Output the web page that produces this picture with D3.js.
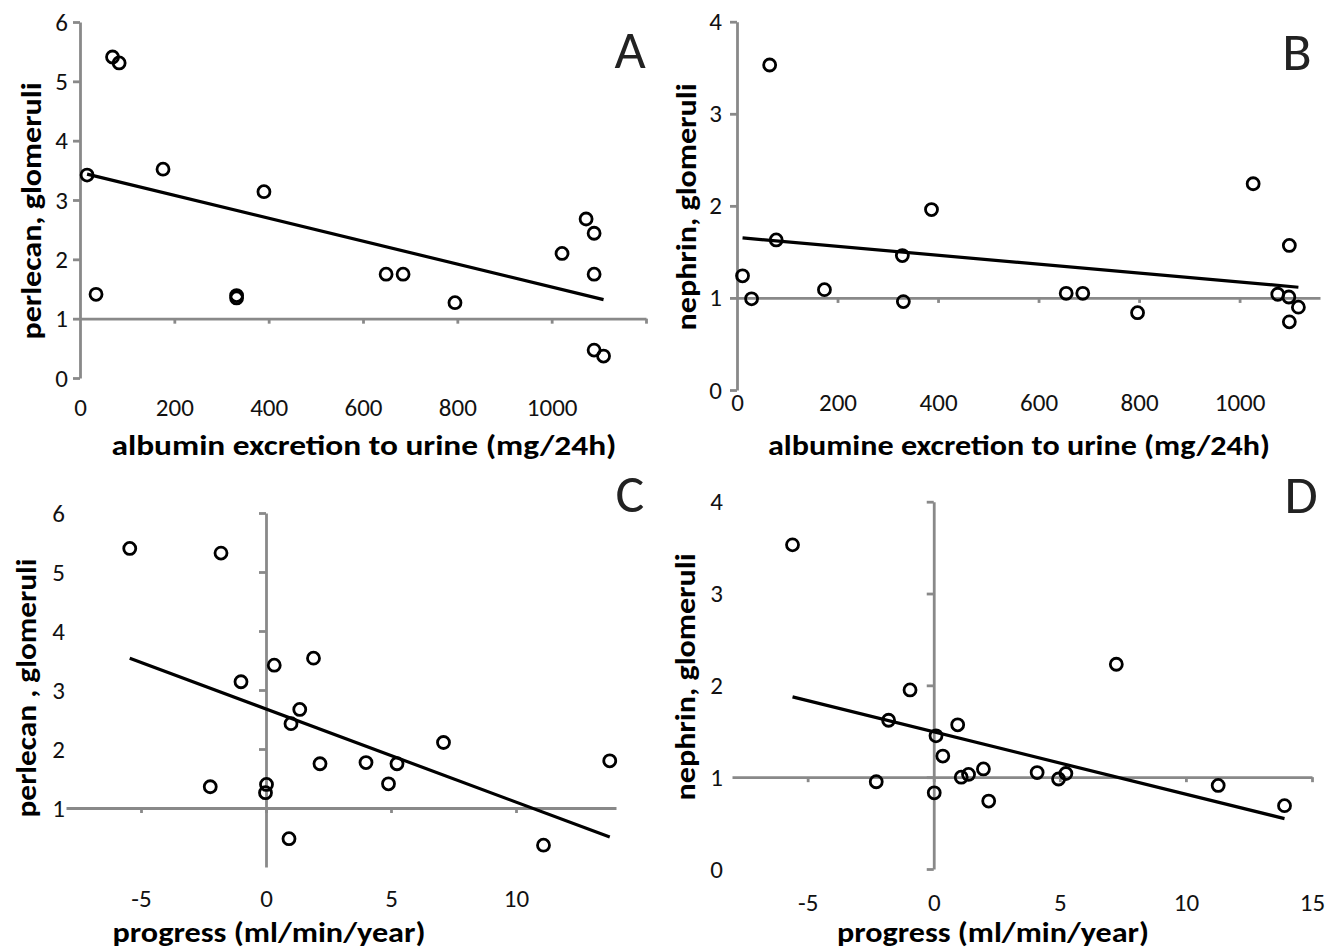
<!DOCTYPE html>
<html>
<head>
    <meta charset="utf-8">
    <title>Perlecan / nephrin scatter plots</title>
    <script src="https://cdnjs.cloudflare.com/ajax/libs/d3/7.8.5/d3.min.js"></script>
    <style>
        body { margin: 0; background: #fff; }
        svg { display: block; }
    </style>
</head>
<body>
    <script>
        // Panel A: albumin excretion vs perlecan
        const albuminA = [15, 34, 69, 83, 176, 332, 332, 390, 649, 685, 795, 1022, 1073, 1090, 1090, 1090, 1110];
        const perlecanA = [3.42, 1.41, 5.41, 5.31, 3.52, 1.39, 1.35, 3.14, 1.75, 1.75, 1.27, 2.10, 2.68, 2.44, 1.75, 0.47, 0.37];

        // Panel B: albumine excretion vs nephrin
        const albuminB = [11, 29, 65, 78, 174, 329, 331, 387, 655, 688, 797, 1027, 1076, 1098, 1099, 1099, 1117];
        const nephrinB = [1.24, 0.99, 3.53, 1.63, 1.09, 1.46, 0.96, 1.96, 1.05, 1.05, 0.84, 2.24, 1.04, 1.01, 1.57, 0.74, 0.90];

        // Panel C: progress vs perlecan
        const progressC = [-5.45, -1.8, -1.0, 0.33, 1.9, 1.35, 1.0, 7.1, 2.16, 4.0, 5.24, 4.9, -2.23, 0.02, -0.02, 0.92, 11.1, 13.75];
        const perlecanC = [5.40, 5.32, 3.14, 3.42, 3.54, 2.67, 2.43, 2.11, 1.75, 1.77, 1.75, 1.41, 1.36, 1.40, 1.26, 0.48, 0.37, 1.80];

        // Panel D: progress vs nephrin
        const progressD = [-5.6, -0.94, -1.79, 0.95, 0.09, 0.36, 7.24, -2.28, 0.02, 1.09, 1.38, 1.97, 2.18, 4.10, 4.95, 5.24, 11.28, 13.91];
        const nephrinD = [3.53, 1.95, 1.62, 1.57, 1.45, 1.23, 2.23, 0.95, 0.83, 1.00, 1.03, 1.09, 0.74, 1.05, 0.98, 1.04, 0.91, 0.69];

        // tick labels
        const albTicks = [0, 200, 400, 600, 800, 1000];
        const progTicksC = [-5, 0, 5, 10];
        const progTicksD = [-5, 0, 5, 10, 15];

        const width = 1335, height = 950;
        const font = "Carlito, Calibri, Lato, 'Open Sans', sans-serif";
        const grey = '#898989';

        const svg = d3.select('body').append('svg')
            .attr('width', width)
            .attr('height', height);

        function drawPanel(p, xs, ys) {
            const g = svg.append('g');
            const x = d3.scaleLinear().domain(p.xDomain).range(p.xRange);
            const y = d3.scaleLinear().domain(p.yDomain).range(p.yRange);

            // vertical axis line + ticks
            g.append('g')
                .attr('transform', `translate(${x(0)},0)`)
                .call(d3.axisLeft(y).tickValues(p.yTicks).tickSize(7).tickSizeOuter(0).tickFormat(''));

            // horizontal axis crosses at y = 1
            g.append('g')
                .attr('transform', `translate(0,${y(1)})`)
                .call(d3.axisBottom(x).tickValues(p.xTicks).tickSize(5).tickSizeOuter(0).tickFormat(''));

            g.selectAll('.domain, .tick line')
                .attr('stroke', grey)
                .attr('stroke-width', 2.8);

            // y labels (low position)
            const yl = g.append('g')
                .attr('transform', `translate(${p.yLabelX},0)`)
                .call(d3.axisLeft(y).tickValues(p.yLabels).tickSize(0).tickPadding(0).tickFormat(d => String(d)));
            yl.select('.domain').remove();

            // x labels (low position)
            const xl = g.append('g')
                .attr('transform', `translate(0,${p.xLabelY})`)
                .call(d3.axisBottom(x).tickValues(p.xLabels).tickSize(0).tickPadding(0).tickFormat(d => String(d)));
            xl.select('.domain').remove();

            g.selectAll('.tick text')
                .attr('font-family', font)
                .attr('font-size', 25)
                .attr('fill', '#111');

            // trend line (least squares)
            const mx = d3.mean(xs), my = d3.mean(ys);
            const sxy = d3.sum(xs, (v, i) => (v - mx) * (ys[i] - my));
            const sxx = d3.sum(xs, v => (v - mx) * (v - mx));
            const slope = sxy / sxx, icpt = my - slope * mx;
            const ext = d3.extent(xs);
            g.append('path')
                .datum(ext)
                .attr('d', d3.line().x(d => x(d)).y(d => y(icpt + slope * d)))
                .attr('stroke', '#000')
                .attr('stroke-width', 3.2)
                .attr('fill', 'none');

            // points
            g.selectAll('circle')
                .data(xs.map((v, i) => [v, ys[i]]))
                .join('circle')
                .attr('cx', d => x(d[0]))
                .attr('cy', d => y(d[1]))
                .attr('r', 6)
                .attr('fill', 'none')
                .attr('stroke', '#000')
                .attr('stroke-width', 2.8);

            // axis titles
            g.append('text')
                .attr('x', p.xTitle[0])
                .attr('y', p.xTitle[1])
                .attr('text-anchor', 'middle')
                .attr('font-family', font)
                .attr('font-weight', 'bold')
                .attr('font-size', 28)
                .attr('textLength', p.xTitle[2])
                .attr('lengthAdjust', 'spacingAndGlyphs')
                .text(p.xName);

            g.append('text')
                .attr('transform', `translate(${p.yTitle[0]},${p.yTitle[1]}) rotate(-90)`)
                .attr('text-anchor', 'middle')
                .attr('font-family', font)
                .attr('font-weight', 'bold')
                .attr('font-size', 28)
                .attr('textLength', p.yTitle[2])
                .attr('lengthAdjust', 'spacingAndGlyphs')
                .text(p.yName);

            // panel letter
            g.append('text')
                .attr('x', p.letter[0])
                .attr('y', p.letter[1])
                .attr('text-anchor', 'middle')
                .attr('font-family', font)
                .attr('font-size', 54)
                .attr('fill', '#222')
                .text(p.name);
        }

        drawPanel({
            name: 'A',
            xDomain: [0, 1200], xRange: [80, 646],
            yDomain: [0, 6], yRange: [378, 22],
            yTicks: [0, 1, 2, 3, 4, 5, 6], xTicks: [200, 400, 600, 800, 1000, 1200],
            yLabels: [0, 1, 2, 3, 4, 5, 6], yLabelX: 68,
            xLabels: albTicks, xLabelY: 398,
            xName: 'albumin excretion to urine (mg/24h)', xTitle: [364, 455, 505],
            yName: 'perlecan, glomeruli', yTitle: [41, 211, 257],
            letter: [630, 68]
        }, albuminA, perlecanA);

        drawPanel({
            name: 'B',
            xDomain: [0, 1160], xRange: [737, 1320],
            yDomain: [0, 4], yRange: [390, 21.7],
            yTicks: [0, 1, 2, 3, 4], xTicks: [200, 400, 600, 800, 1000],
            yLabels: [0, 1, 2, 3, 4], yLabelX: 722,
            xLabels: albTicks, xLabelY: 393,
            xName: 'albumine excretion to urine (mg/24h)', xTitle: [1019, 455, 502],
            yName: 'nephrin, glomeruli', yTitle: [696, 207, 247],
            letter: [1297, 70]
        }, albuminB, nephrinB);

        drawPanel({
            name: 'C',
            xDomain: [-8, 14], xRange: [66, 616],
            yDomain: [0, 6], yRange: [867, 513],
            yTicks: [1, 2, 3, 4, 5, 6], xTicks: [-5, 0, 5, 10],
            yLabels: [1, 2, 3, 4, 5, 6], yLabelX: 65,
            xLabels: progTicksC, xLabelY: 889,
            xName: 'progress (ml/min/year)', xTitle: [269, 942, 313],
            yName: 'perlecan , glomeruli', yTitle: [36, 688, 259],
            letter: [630, 512]
        }, progressC, perlecanC);

        drawPanel({
            name: 'D',
            xDomain: [-8, 15], xRange: [732, 1312],
            yDomain: [0, 4], yRange: [869, 501.7],
            yTicks: [0, 1, 2, 3, 4], xTicks: [-5, 0, 5, 10, 15],
            yLabels: [0, 1, 2, 3, 4], yLabelX: 723,
            xLabels: progTicksD, xLabelY: 893,
            xName: 'progress (ml/min/year)', xTitle: [993, 942, 312],
            yName: 'nephrin, glomeruli', yTitle: [695, 677, 247],
            letter: [1301, 513]
        }, progressD, nephrinD);
    </script>
</body>
</html>
